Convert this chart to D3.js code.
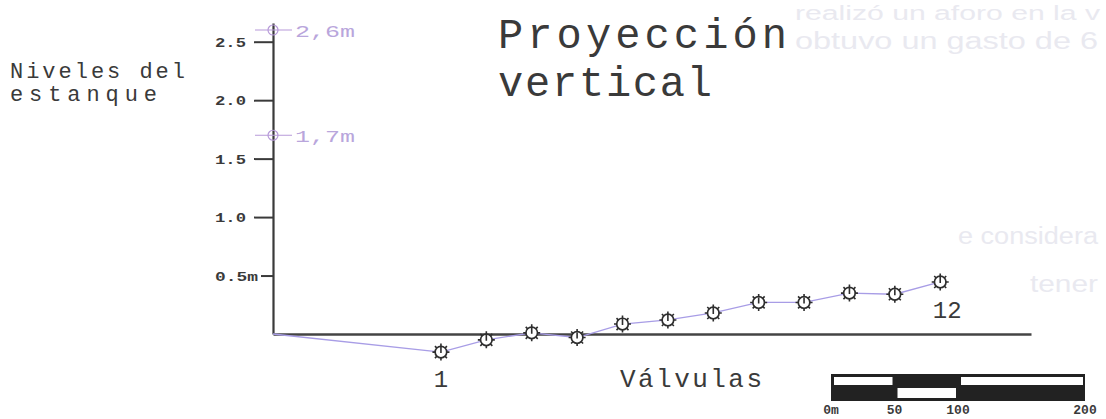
<!DOCTYPE html>
<html>
<head>
<meta charset="utf-8">
<script src="https://cdn.jsdelivr.net/npm/d3@7"></script>
<style>
  html, body { margin: 0; padding: 0; background: #ffffff; }
  svg { display: block; }
</style>
</head>
<body>
<svg id="chart" width="1106" height="419"></svg>
<script>
// ---------- data ----------
const valves = [1, 2, 3, 4, 5, 6, 7, 8, 9, 10, 11, 12];
const levels = [-0.155, -0.05, 0.01, -0.03, 0.085, 0.12, 0.18, 0.27, 0.27, 0.35, 0.34, 0.445];
const profileStart = -2.7;   // profile begins at the vertical axis (valve units)
const profileEnd = 14;       // end of the ground line (valve units)
const yTicks = [0.5, 1.0, 1.5, 2.0, 2.5];
const yTickLabels = ["0.5m", "1.0", "1.5", "2.0", "2.5"];
const refLevels = [2.6, 1.7];
const refLabels = ["2,6m", "1,7m"];
const valveLabels = [{ v: 1, t: "1" }, { v: 12, t: "12" }];
const scaleStops = [0, 50, 100, 200];
const scaleLabels = ["0m", "50", "100", "200"];
const ghostLines = ["realizó un aforo en la v", "obtuvo un gasto de 6", "e considera", "tener"];

// ---------- setup ----------
const svg = d3.select("#chart");
const ink = "#3a3a3a";
const mono = "'Liberation Mono', 'DejaVu Sans Mono', monospace";

const x = d3.scaleLinear().domain([profileStart, profileEnd]).range([273, 1031]);
const y = d3.scaleLinear().domain([0, 2.66]).range([334, 23]);

// faint bleed-through text from the back of the page
const ghostPos = [[795, 20, 305], [795, 49, 303], [958, 244, 140], [1030, 292, 68]];
svg.append("g").selectAll("text").data(ghostLines).join("text")
  .attr("x", (d, i) => ghostPos[i][0])
  .attr("y", (d, i) => ghostPos[i][1])
  .attr("textLength", (d, i) => ghostPos[i][2])
  .attr("lengthAdjust", "spacingAndGlyphs")
  .attr("font-family", "'Liberation Sans', Arial, sans-serif")
  .attr("font-size", (d, i) => i === 0 ? 20 : 23)
  .attr("fill", "#e9e9f0")
  .text(d => d);

// ---------- y axis ----------
const yAxis = svg.append("g")
  .attr("transform", `translate(${x(profileStart)},0)`)
  .call(d3.axisLeft(y).tickValues(yTicks).tickSize(19).tickSizeOuter(0)
        .tickFormat((d, i) => yTickLabels[i]));
yAxis.select(".domain").attr("stroke", ink).attr("stroke-width", 2.2);
yAxis.selectAll(".tick line").attr("stroke", ink).attr("stroke-width", 2)
  .attr("x2", d => d === 0.5 ? -12 : -19);
yAxis.selectAll(".tick text")
  .attr("x", -58).attr("dy", "0.35em")
  .attr("text-anchor", "start")
  .attr("font-family", mono).attr("font-size", 13).attr("font-weight", "bold")
  .attr("fill", ink)
  .attr("textLength", d => d === 0.5 ? 43 : 31)
  .attr("lengthAdjust", "spacingAndGlyphs");

// ---------- ground line (x axis) ----------
const xAxis = svg.append("g")
  .attr("transform", `translate(0,${y(0)})`)
  .call(d3.axisBottom(x).tickValues([]).tickSizeOuter(0));
xAxis.select(".domain").attr("stroke", "#444").attr("stroke-width", 2.6);

// ---------- reference levels ----------
const ref = svg.append("g").selectAll("g").data(refLevels).join("g")
  .attr("transform", d => `translate(${x(profileStart)},${y(d)})`);
ref.append("line").attr("x1", -18).attr("x2", 19).attr("stroke", "#b79ad9").attr("stroke-width", 1.2);
ref.append("circle").attr("r", 5).attr("fill", "none").attr("stroke", "#b79ad9").attr("stroke-width", 1.2);
ref.append("text")
  .attr("x", 22).attr("y", 7)
  .attr("font-family", mono).attr("font-size", 17)
  .attr("fill", "#b9a6dc")
  .attr("textLength", 60).attr("lengthAdjust", "spacingAndGlyphs")
  .text((d, i) => refLabels[i]);

// ---------- profile line ----------
const pts = [{ v: profileStart, h: 0 }].concat(valves.map((v, i) => ({ v, h: levels[i] })));
svg.append("path")
  .datum(pts)
  .attr("fill", "none")
  .attr("stroke", "#a89de6")
  .attr("stroke-width", 1.3)
  .attr("d", d3.line().x(d => x(d.v)).y(d => y(d.h)));

// ---------- valve markers ----------
const mk = svg.append("g").selectAll("g").data(valves).join("g")
  .attr("transform", (d, i) => `translate(${x(d)},${y(levels[i])})`);
mk.append("circle").attr("r", 5.8).attr("fill", "#fff").attr("stroke", "#2e2e2e").attr("stroke-width", 1.7);
mk.append("path")
  .attr("d", "M0,-5V1M0,-8.5V-5.5M0,5.5V8.5M-8.5,0H-5.5M5.5,0H8.5M-6,-6L-4,-4M6,-6L4,-4M-6,6L-4,4M6,6L4,4")
  .attr("fill", "none").attr("stroke", "#2e2e2e").attr("stroke-width", 1.6);

// valve number labels
svg.append("g").selectAll("text").data(valveLabels).join("text")
  .attr("x", d => x(d.v) + (d.v === 12 ? 7 : 0))
  .attr("y", d => d.v === 12 ? 318 : 387)
  .attr("text-anchor", "middle")
  .attr("font-family", mono).attr("font-size", 24)
  .attr("fill", ink)
  .text(d => d.t);

// ---------- titles ----------
const lab = svg.append("g").attr("font-family", mono).attr("fill", ink);
lab.append("text").attr("x", 10).attr("y", 78).attr("font-size", 22)
  .attr("textLength", 175).attr("lengthAdjust", "spacing").text("Niveles del");
lab.append("text").attr("x", 10).attr("y", 101).attr("font-size", 22)
  .attr("textLength", 147).attr("lengthAdjust", "spacing").text("estanque");
lab.append("text").attr("x", 498).attr("y", 48).attr("font-size", 42)
  .attr("textLength", 289).attr("lengthAdjust", "spacing").text("Proyección");
lab.append("text").attr("x", 498).attr("y", 96).attr("font-size", 42)
  .attr("textLength", 214).attr("lengthAdjust", "spacing").text("vertical");
lab.append("text").attr("x", 620).attr("y", 387).attr("font-size", 26)
  .attr("textLength", 142).attr("lengthAdjust", "spacing").text("Válvulas");

// ---------- graphic scale bar ----------
const sx = d3.scaleLinear().domain([0, 200]).range([831, 1085]);
const bar = svg.append("g");
bar.append("rect").attr("x", sx(0)).attr("y", 374).attr("width", sx(200) - sx(0)).attr("height", 27).attr("fill", "#222");
const segs = d3.pairs(scaleStops);
bar.selectAll(".seg").data(segs).join("rect")
  .attr("x", d => sx(d[0]) + 3)
  .attr("y", (d, i) => i % 2 === 0 ? 377 : 388)
  .attr("width", d => sx(d[1]) - sx(d[0]) - 5)
  .attr("height", (d, i) => i % 2 === 0 ? 8 : 10)
  .attr("fill", "#fff");
bar.selectAll("text").data(scaleStops).join("text")
  .attr("x", d => sx(d))
  .attr("y", 414)
  .attr("text-anchor", "middle")
  .attr("font-family", mono).attr("font-size", 13).attr("font-weight", "bold")
  .attr("fill", ink)
  .text((d, i) => scaleLabels[i]);
</script>
</body>
</html>
